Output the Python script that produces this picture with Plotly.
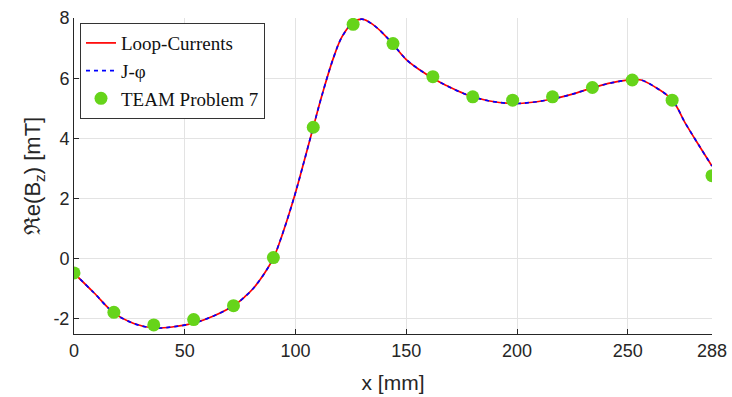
import plotly.graph_objects as go

# Simulated curve
curve_x = [0, 9, 18, 27, 36, 45, 54, 63, 72, 77, 81, 86, 90, 94, 99, 103, 108, 112, 117,
           121, 126, 130, 135, 140, 144, 150, 156, 162, 168, 177, 187, 198, 207, 216,
           225, 234, 243, 252, 256, 262, 270, 276, 282, 288]
curve_y = [-0.48, -1.13, -1.80, -2.15, -2.30, -2.26, -2.14, -1.90, -1.56, -1.27, -0.98,
           -0.48, 0.02, 0.80, 1.95, 3.00, 4.37, 5.45, 6.65, 7.38, 7.85, 7.96, 7.78, 7.45,
           7.13, 6.62, 6.28, 6.00, 5.76, 5.46, 5.25, 5.16, 5.20, 5.31, 5.47, 5.68, 5.85,
           5.95, 5.94, 5.72, 5.28, 4.50, 3.78, 3.08]

# TEAM Problem 7 measurement points
meas_x = [0, 18, 36, 54, 72, 90, 108, 126, 144, 162, 180, 198, 216, 234, 252, 270, 288]
meas_y = [-0.47, -1.78, -2.20, -2.02, -1.56, 0.04, 4.37, 7.79, 7.15, 6.05, 5.38, 5.27,
          5.38, 5.69, 5.94, 5.27, 2.76]

x_ticks = [0, 50, 100, 150, 200, 250, 288]
y_ticks = [-2, 0, 2, 4, 6, 8]

fig = go.Figure()
fig.add_trace(go.Scatter(x=curve_x, y=curve_y, mode="lines", name="Loop-Currents",
                         line=dict(color="#ff0000", width=1.7, shape="spline", smoothing=1)))
fig.add_trace(go.Scatter(x=curve_x, y=curve_y, mode="lines", name="J-φ",
                         line=dict(color="#0000ff", width=1.7, dash="4px,4px",
                                   shape="spline", smoothing=1)))
fig.add_trace(go.Scatter(x=meas_x, y=meas_y, mode="markers", name="TEAM Problem 7",
                         marker=dict(color="#66d41a", size=13, line=dict(width=0))))

sans = "Liberation Sans, Arial, sans-serif"
axis_common = dict(
    showgrid=True, gridcolor="#e3e3e3", gridwidth=1,
    showline=True, linecolor="#262626", linewidth=1,
    ticks="inside", ticklen=5, tickcolor="#262626",
    tickfont=dict(family=sans, size=18, color="#262626"),
    zeroline=False, mirror=False, automargin=False,
)

fig.update_layout(
    width=732, height=397,
    margin=dict(l=74, r=20, t=18, b=63),
    paper_bgcolor="white", plot_bgcolor="white",
    showlegend=True,
    legend=dict(
        x=0.0094, y=0.984, xanchor="left", yanchor="top",
        bgcolor="white", bordercolor="#333333", borderwidth=1,
        font=dict(family="Liberation Serif, Times New Roman, serif", size=19, color="#111111"),
        itemwidth=30, tracegroupgap=0,
    ),
    xaxis=dict(range=[0, 288], tickvals=x_ticks, ticktext=[str(v) for v in x_ticks],
               title=dict(text="x [mm]", font=dict(family=sans, size=21, color="#262626")),
               **axis_common),
    yaxis=dict(range=[-2.5, 8], tickvals=y_ticks, ticktext=[str(v) for v in y_ticks],
               title=dict(text="ℜe(B<sub>z</sub>) [mT]", standoff=6,
                          font=dict(family=sans, size=22, color="#262626")),
               **axis_common),
)

fig.write_html("out.html", config={"displayModeBar": False},
               post_script="document.body.style.margin='0px';document.body.style.overflow='hidden';")
